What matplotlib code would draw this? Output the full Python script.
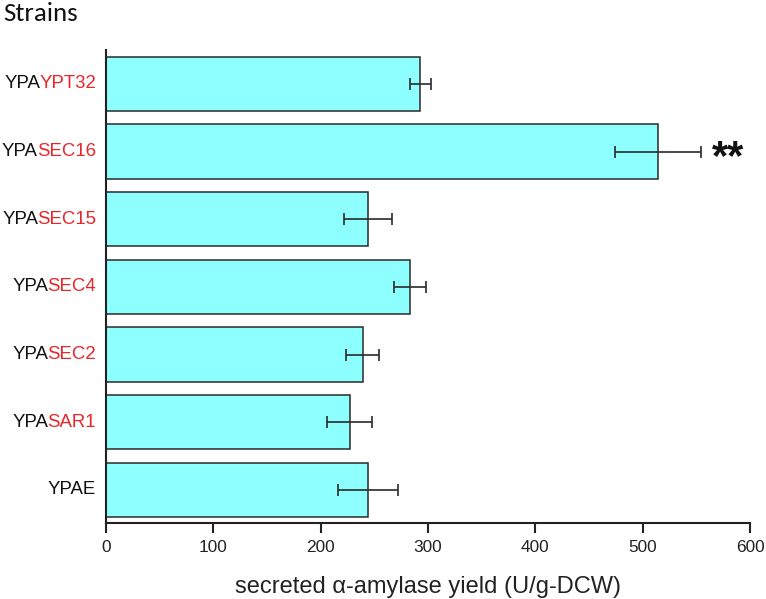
import matplotlib
matplotlib.use("Agg")
import matplotlib.pyplot as plt
from matplotlib.transforms import offset_copy
from matplotlib import font_manager

# order bottom to top in the chart
strain_prefix = ["YPAE", "YPA", "YPA", "YPA", "YPA", "YPA", "YPA"]
strain_gene = ["", "SAR1", "SEC2", "SEC4", "SEC15", "SEC16", "YPT32"]
values = [244, 227, 239, 283, 244, 514, 293]
errors = [28, 21, 15, 15, 22, 40, 10]
xticks = [0, 100, 200, 300, 400, 500, 600]
significance = {"SEC16": "**"}

W, H = 766, 599
fig = plt.figure(figsize=(W / 100, H / 100), dpi=100)
ax_left, ax_right, ax_bottom, ax_top = 106, 750, 523, 50
ax = fig.add_axes([ax_left / W, 1 - ax_bottom / H, (ax_right - ax_left) / W,
                   (ax_bottom - ax_top) / H])

font = ["Liberation Sans", "DejaVu Sans"]
ypos = list(range(len(values)))
ax.barh(ypos, values, height=0.8, color="#8EFFFF", edgecolor="#2a2a2a",
        linewidth=1.1, zorder=2)
ax.errorbar(values, ypos, xerr=errors, fmt="none", ecolor="#2a2a2a",
            elinewidth=1.2, capsize=4, capthick=1.2, zorder=3)

ax.set_xlim(0, 600)
ax.set_ylim(-0.49, 6.5)
ax.set_xticks(xticks)
ax.set_xticklabels([str(t) for t in xticks], fontsize=12.4, family=font,
                   color="#222222")
ax.set_yticks([])
for s in ["top", "right"]:
    ax.spines[s].set_visible(False)
for s in ["left", "bottom"]:
    ax.spines[s].set_linewidth(1.5)
    ax.spines[s].set_color("#222222")
ax.tick_params(axis="x", direction="out", length=7.2, width=1.5, pad=5,
               color="#222222")
ax.set_xlabel("secreted α-amylase yield (U/g-DCW)", fontsize=17,
              family=font, color="#222222")
ax.xaxis.set_label_coords(0.5, (ax_bottom - 593) / (ax_bottom - ax_top))
ax.xaxis.label.set_va("baseline")

installed = {f.name for f in font_manager.fontManager.ttflist}
if "Carlito" in installed:
    title_family, title_size = ["Carlito", "DejaVu Sans"], 19.4
else:
    title_family, title_size = ["Lato", "DejaVu Sans"], 21
fig.text(3 / W, 1 - 21 / H, "Strains", fontsize=title_size,
         family=title_family, va="baseline", ha="left", color="#111111")

fig.canvas.draw()
renderer = fig.canvas.get_renderer()
lab_fs = 13.4
for y, pre, gene in zip(ypos, strain_prefix, strain_gene):
    trans = offset_copy(ax.get_yaxis_transform(), fig=fig, x=-10, y=0, units="dots")
    if gene:
        t = ax.text(0, y, gene, color="#E8262A", fontsize=lab_fs, family=font,
                    ha="right", va="center", transform=trans)
        bb = t.get_window_extent(renderer)
        ax.text(bb.x0 + 1, (bb.y0 + bb.y1) / 2, pre, color="#111111", fontsize=lab_fs,
                family=font, ha="right", va="center", transform=None)
    else:
        ax.text(0, y, pre, color="#111111", fontsize=lab_fs, family=font,
                ha="right", va="center", transform=trans)
    if gene in significance:
        strans = offset_copy(ax.transData, fig=fig, x=11, y=-18, units="dots")
        ax.text(values[y] + errors[y], y, significance[gene], fontsize=30,
                fontweight="bold", ha="left", va="baseline", family=font,
                color="#111111", transform=strans)

fig.savefig("out.png", dpi=100)
